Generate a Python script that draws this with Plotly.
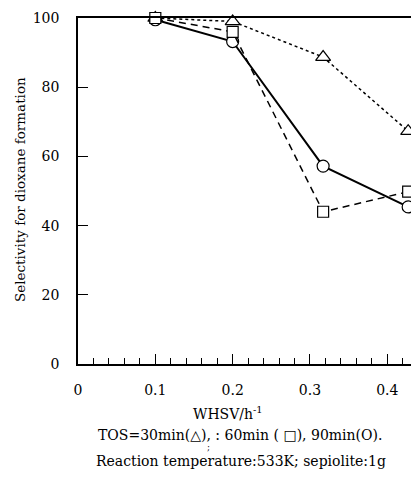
import plotly.graph_objects as go

whsv = [0.1, 0.2, 0.317, 0.427]
sel_30min = [100, 99, 88.7, 67.3]
sel_60min = [100, 96, 44, 49.8]
sel_90min = [99.5, 93.2, 57.2, 45.4]

x_ticks = [0, 0.1, 0.2, 0.3, 0.4]
x_tick_labels = ["0", "0.1", "0.2", "0.3", "0.4"]
y_ticks = [0, 20, 40, 60, 80, 100]

FONT = "DejaVu Serif"

# figure is drawn inside an 8px page margin; plot area spans window px
# x 78..419, y 18..364
W, H = 411, 488
L, T = 70, 10
PW, PH = 341, 346
B = H - T - PH


def px_x(wx):
    return (wx - 8 - L) / PW


def px_y(wy):
    return (T + PH - (wy - 8)) / PH


fig = go.Figure()
fig.add_trace(go.Scatter(
    x=whsv, y=sel_30min, mode="lines+markers", name="TOS=30min",
    line=dict(color="black", width=1.5, dash="3px,3px"), cliponaxis=False,
    marker=dict(symbol="triangle-up", size=13, color="white",
                line=dict(color="black", width=1.2)),
))
fig.add_trace(go.Scatter(
    x=whsv, y=sel_90min, mode="lines+markers", name="TOS=90min",
    line=dict(color="black", width=2), cliponaxis=False,
    marker=dict(symbol="circle", size=12, color="white",
                line=dict(color="black", width=1.2)),
))
fig.add_trace(go.Scatter(
    x=whsv, y=sel_60min, mode="lines+markers", name="TOS=60min",
    line=dict(color="black", width=1.5, dash="7px,5px"), cliponaxis=False,
    marker=dict(symbol="square", size=11, color="white",
                line=dict(color="black", width=1.2)),
))

fig.update_layout(
    width=W, height=H,
    margin=dict(l=L, r=0, t=T, b=B),
    paper_bgcolor="white", plot_bgcolor="white",
    showlegend=False,
    font=dict(family=FONT, color="black", size=14),
)
fig.update_xaxes(
    range=[0, 0.441], tickvals=x_ticks, ticktext=x_tick_labels,
    showgrid=False, zeroline=False,
    showline=True, linecolor="black", linewidth=1.5, mirror=True,
    ticks="inside", ticklen=10, tickwidth=1.2, tickcolor="black",
    ticklabelstandoff=12,
    minor=dict(dtick=0.02, tick0=0, ticks="inside", ticklen=6,
               tickwidth=1, tickcolor="black"),
    tickfont=dict(family=FONT, size=14),
)
fig.update_yaxes(
    range=[0, 100], tickvals=y_ticks,
    showgrid=False, zeroline=False,
    showline=True, linecolor="black", linewidth=1.5, mirror=False,
    ticks="inside", ticklen=10, tickwidth=1.2, tickcolor="black",
    ticklabelstandoff=14,
    tickfont=dict(family=FONT, size=14),
)

ann = [
    dict(text="Selectivity for dioxane formation", x=px_x(20),
         y=px_y(190), textangle=-90, font=dict(size=13.5)),
    dict(text="WHSV/h<sup>-1</sup>", x=px_x(228), y=px_y(413),
         font=dict(size=14)),
    dict(text="TOS=30min(△), : 60min ( □), 90min(O).", x=px_x(240),
         y=px_y(435), font=dict(size=14)),
    dict(text=";", x=px_x(208), y=px_y(447), font=dict(size=9)),
    dict(text="Reaction temperature:533K; sepiolite:1g", x=px_x(241),
         y=px_y(461), font=dict(size=14)),
]
for a in ann:
    a["xref"] = "paper"
    a["yref"] = "paper"
    a["showarrow"] = False
    a["xanchor"] = "center"
    a["yanchor"] = "middle"
    a["font"] = dict(family=FONT, color="black", **a["font"])
fig.update_layout(annotations=ann)

fig.write_html("out.html")
